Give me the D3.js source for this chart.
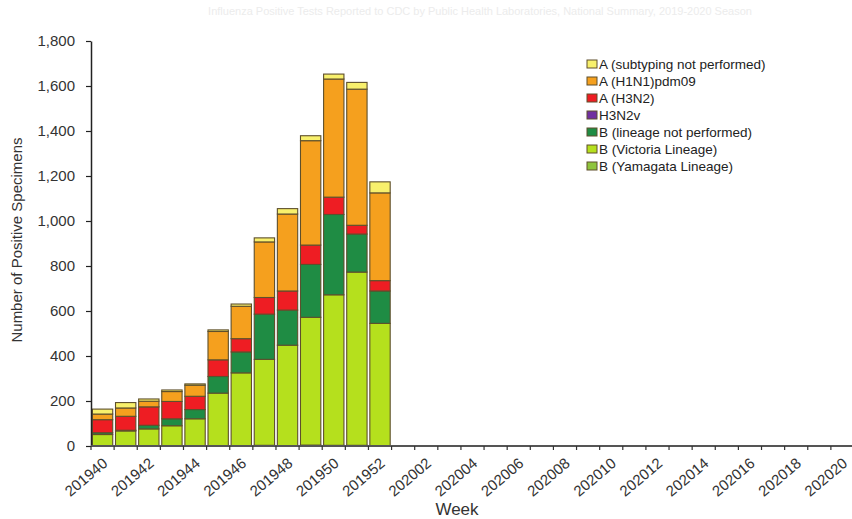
<!DOCTYPE html>
<html>
<head>
<meta charset="utf-8">
<script src="https://cdn.jsdelivr.net/npm/d3@7"></script>
<style>
	html, body { margin: 0; padding: 0; background: #fff; }
	svg { display: block; font-family: "Liberation Sans", Arial, sans-serif; }
</style>
</head>
<body>
<svg width="852" height="519"></svg>
<script>
(function(){
	'use strict';

	// weeks shown on the axis, 2019 week 40 through 2020 week 20
	const weeks = [
		'201940','201941','201942','201943','201944','201945','201946',
		'201947','201948','201949','201950','201951','201952',
		'202001','202002','202003','202004','202005','202006','202007',
		'202008','202009','202010','202011','202012','202013','202014',
		'202015','202016','202017','202018','202019','202020'
	];

	// positive specimens per week (later weeks not yet reported)
	const yamagata  = [1, 0, 1, 1, 2, 1, 2, 3, 2, 4, 3, 3, 2];
	const victoria  = [50, 67, 75, 89, 119, 234, 323, 382, 446, 568, 669, 770, 543];
	const lineageNP = [8, 3, 16, 31, 41, 74, 93, 201, 156, 235, 357, 169, 144];
	const h3n2v     = [0, 0, 0, 0, 0, 0, 0, 0, 0, 0, 0, 0, 0];
	const h3n2      = [58, 62, 82, 77, 59, 74, 59, 74, 85, 86, 77, 39, 46];
	const h1n1      = [25, 37, 25, 44, 49, 126, 144, 247, 342, 464, 525, 605, 390];
	const aUnsub    = [22, 24, 10, 7, 6, 7, 10, 18, 24, 22, 22, 30, 49];

	const yTicks = [0, 200, 400, 600, 800, 1000, 1200, 1400, 1600, 1800];

	// stack order, bottom to top
	const series = [
		{ key: 'B (Yamagata Lineage)', values: yamagata, color: '#8fc43c' },
		{ key: 'B (Victoria Lineage)', values: victoria, color: '#b5e01d' },
		{ key: 'B (lineage not performed)', values: lineageNP, color: '#1f8c44' },
		{ key: 'H3N2v', values: h3n2v, color: '#7030a0' },
		{ key: 'A (H3N2)', values: h3n2, color: '#ee1d23' },
		{ key: 'A (H1N1)pdm09', values: h1n1, color: '#f5a01e' },
		{ key: 'A (subtyping not performed)', values: aUnsub, color: '#f8f06c' }
	];

	const svg = d3.select('svg');
	const left = 91;
	const right = 854;
	const top = 41;
	const bottom = 446;

	const table = weeks.map((w, i) => {
		const row = { week: w };
		series.forEach(s => { row[s.key] = s.values[i] || 0; });
		return row;
	});

	const stacked = d3.stack()
		.keys(series.map(s => s.key))(table);

	const x = d3.scaleBand()
		.domain(weeks)
		.range([left, right])
		.paddingInner(0.12)
		.paddingOuter(0.06);

	const y = d3.scaleLinear()
		.domain([0, 1800])
		.range([bottom, top]);

	const color = d3.scaleOrdinal()
		.domain(series.map(s => s.key))
		.range(series.map(s => s.color));

	// faint title
	svg.append('text')
		.attr('x', 480)
		.attr('y', 15)
		.attr('text-anchor', 'middle')
		.attr('font-size', 11)
		.attr('fill', '#ececec')
		.text('Influenza Positive Tests Reported to CDC by Public Health Laboratories, National Summary, 2019-2020 Season');

	// bars
	const layers = svg.append('g')
		.selectAll('g')
		.data(stacked)
		.join('g')
			.attr('fill', d => color(d.key));

	layers.selectAll('rect')
		.data(d => d.filter(p => p[1] - p[0] > 0))
		.join('rect')
			.attr('x', d => x(d.data.week))
			.attr('y', d => y(d[1]))
			.attr('width', x.bandwidth())
			.attr('height', d => y(d[0]) - y(d[1]))
			.attr('stroke', '#5e4f2c')
			.attr('stroke-width', 1.1);

	// y axis
	const yAxis = svg.append('g')
		.attr('transform', `translate(${left}, 0)`)
		.call(d3.axisLeft(y)
			.tickValues(yTicks)
			.tickFormat(d3.format(','))
			.tickSize(5)
			.tickSizeOuter(0)
			.tickPadding(11));

	yAxis.select('.domain')
		.attr('stroke', '#222')
		.attr('stroke-width', 1.5);
	yAxis.selectAll('.tick line')
		.attr('stroke', '#222')
		.attr('stroke-width', 1.2);
	yAxis.selectAll('.tick text')
		.attr('font-size', 15)
		.attr('fill', '#333');

	// x axis
	const step = x.step();
	const edge = d => x(d) - step * x.paddingOuter();

	svg.append('line')
		.attr('x1', left)
		.attr('x2', 852)
		.attr('y1', bottom)
		.attr('y2', bottom)
		.attr('stroke', '#555')
		.attr('stroke-width', 2);

	svg.append('g')
		.selectAll('line')
		.data(weeks)
		.join('line')
			.attr('x1', d => edge(d))
			.attr('x2', d => edge(d))
			.attr('y1', bottom)
			.attr('y2', bottom + 4)
			.attr('stroke', '#333')
			.attr('stroke-width', 1.2);

	const xAxis = svg.append('g')
		.attr('transform', `translate(0, ${bottom})`)
		.call(d3.axisBottom(x)
			.tickValues(weeks.filter((w, i) => i % 2 === 0))
			.tickSize(0)
			.tickPadding(0));

	xAxis.select('.domain').remove();
	xAxis.selectAll('.tick text')
		.attr('font-size', 15)
		.attr('fill', '#333')
		.attr('text-anchor', 'end')
		.attr('dy', 0)
		.attr('y', 0)
		.attr('transform', 'translate(6, 19) rotate(-40)');

	// axis titles
	svg.append('text')
		.attr('transform', 'translate(22, 240) rotate(-90)')
		.attr('text-anchor', 'middle')
		.attr('font-size', 15)
		.attr('fill', '#333')
		.text('Number of Positive Specimens');

	svg.append('text')
		.attr('x', 457)
		.attr('y', 515)
		.attr('text-anchor', 'middle')
		.attr('font-size', 17)
		.attr('fill', '#333')
		.text('Week');

	// legend, same order as the stack read top down
	const legend = svg.append('g')
		.attr('transform', 'translate(587, 60)')
		.selectAll('g')
		.data(series.slice().reverse())
		.join('g')
			.attr('transform', (d, i) => `translate(0, ${i * 17})`);

	legend.append('rect')
		.attr('width', 10)
		.attr('height', 8)
		.attr('fill', d => d.color)
		.attr('stroke', '#5e4f2c')
		.attr('stroke-width', 1);

	legend.append('text')
		.attr('x', 12)
		.attr('y', 9)
		.attr('font-size', 13.5)
		.attr('fill', '#222')
		.text(d => d.key);
})();
</script>
</body>
</html>
